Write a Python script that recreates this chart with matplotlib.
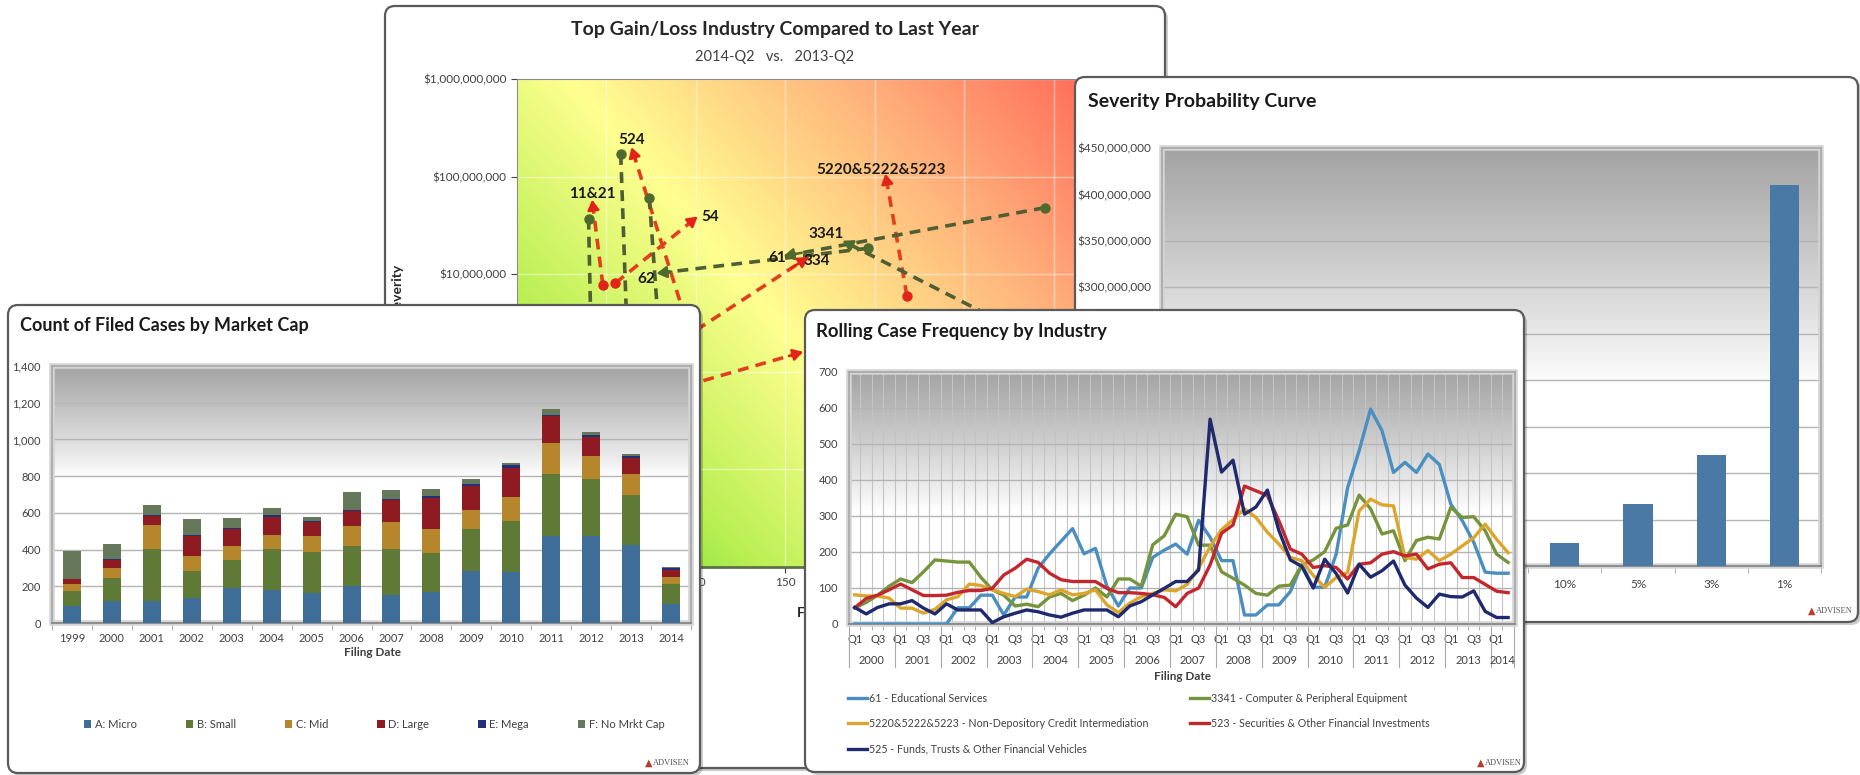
import numpy as np
import matplotlib
matplotlib.use("Agg")
import matplotlib.pyplot as plt
import matplotlib.transforms as mtransforms
from matplotlib.patches import FancyBboxPatch, Rectangle
from matplotlib.colors import LinearSegmentedColormap
from matplotlib.ticker import FuncFormatter, NullLocator

plt.rcParams['font.family'] = ['Lato', 'DejaVu Sans']

# ---- count of filed cases by market cap ----
cap_years = ['1999', '2000', '2001', '2002', '2003', '2004', '2005', '2006',
             '2007', '2008', '2009', '2010', '2011', '2012', '2013', '2014']
cap_labels = ['A: Micro', 'B: Small', 'C: Mid', 'D: Large', 'E: Mega', 'F: No Mrkt Cap']
micro = [91, 122, 118, 136, 190, 180, 163, 203, 151, 167, 285, 279, 475, 475, 423, 105]
small = [85, 121, 285, 147, 151, 224, 223, 216, 252, 217, 226, 278, 337, 310, 275, 107]
mid = [36, 56, 132, 83, 76, 75, 86, 109, 148, 127, 106, 132, 167, 125, 113, 40]
large = [27, 44, 49, 109, 96, 98, 76, 81, 120, 171, 127, 158, 149, 104, 90, 38]
mega = [3, 3, 5, 6, 4, 12, 7, 6, 5, 11, 12, 13, 5, 11, 11, 11]
no_cap = [148, 87, 53, 87, 56, 35, 24, 96, 46, 36, 27, 14, 33, 18, 11, 2]

# ---- rolling case frequency by industry (2000-Q1 .. 2014-Q2) ----
roll_years = [str(y) for y in range(2000, 2015)]
roll_quarters = ['Q1', 'Q2', 'Q3', 'Q4'] * 14 + ['Q1', 'Q2']
edu = [0, 0, 0, 0, 0, 0, 0, 0, 0, 45, 45, 80, 80, 25, 75, 75, 155, 195, 230, 265,
       195, 210, 105, 50, 100, 100, 185, 205, 222, 194, 288, 241, 176, 176, 25, 25, 53, 53, 90, 165,
       102, 102, 194, 379, 481, 597, 537, 421, 449, 421, 472, 443, 333, 287, 227, 144, 141, 141]
computer = [45, 60, 80, 105, 125, 115, 145, 178, 175, 172, 172, 130, 95, 80, 50, 55, 48, 75, 85, 65,
            80, 100, 75, 125, 125, 105, 220, 245, 305, 298, 219, 219, 145, 127, 108, 85, 80, 105, 108, 164,
            178, 201, 266, 275, 358, 320, 250, 259, 176, 232, 241, 236, 324, 296, 298, 259, 194, 171]
credit = [81, 78, 78, 72, 44, 44, 30, 41, 67, 76, 111, 107, 95, 85, 76, 97, 90, 81, 95, 81,
          85, 95, 53, 32, 58, 76, 85, 95, 92, 110, 155, 215, 262, 290, 320, 296, 255, 222, 185, 176,
          135, 102, 129, 143, 314, 347, 331, 328, 185, 180, 204, 176, 194, 217, 240, 277, 235, 198]
securities = [45, 71, 80, 95, 111, 95, 79, 79, 80, 88, 93, 93, 99, 136, 155, 180, 171, 141, 123, 118,
              118, 118, 99, 87, 87, 85, 81, 74, 48, 85, 100, 164, 252, 275, 383, 370, 357, 287, 208, 194,
              157, 162, 157, 125, 166, 170, 194, 201, 189, 194, 153, 166, 170, 129, 129, 110, 91, 87]
funds = [46, 28, 46, 56, 56, 65, 44, 28, 56, 39, 39, 39, 4, 20, 30, 39, 34, 25, 19, 30,
         39, 39, 39, 20, 50, 62, 81, 99, 118, 118, 150, 569, 422, 455, 305, 325, 372, 260, 178, 160,
         100, 180, 140, 86, 166, 130, 148, 175, 108, 72, 46, 83, 76, 75, 92, 35, 18, 18]
roll_names = ['61 - Educational Services',
              '3341 - Computer & Peripheral Equipment',
              '5220&5222&5223 - Non-Depository Credit Intermediation',
              '523 - Securities & Other Financial Investments',
              '525 - Funds, Trusts & Other Financial Vehicles']

# ---- severity probability curve ----
sev_labels = ['90%', '75%', '50%', '25%', '20%', '10%', '5%', '3%', '1%']
sev_values = [2e6, 4e6, 7e6, 12e6, 17e6, 25e6, 67e6, 119e6, 410e6]

# ---- top gain/loss industry: (frequency, severity) last year -> this year ----
gain_labels = ['11&21', '54', '524', '334', '', '5220&5222&5223']
gain_x0 = [48, 55, 97, 24, 46, 218]
gain_y0 = [7.7e6, 8.1e6, 2.4e6, 3.3e5, 4.0e5, 6.0e6]
gain_x1 = [42, 101, 64, 163, 160, 206]
gain_y1 = [5.8e7, 3.9e7, 2.0e8, 1.5e7, 1.6e6, 1.07e8]
loss_labels = ['61', '62', '3341', '', '', '']
loss_x0 = [295, 196, 326, 40, 58, 74]
loss_y0 = [4.8e7, 1.84e7, 1.0e6, 3.7e7, 1.7e8, 6.0e7]
loss_x1 = [149, 78, 182, 43, 64, 84]
loss_y1 = [1.53e7, 1.02e7, 2.2e7, 1.0e5, 1.3e5, 1.6e5]

W, H = 1860, 775
fig = plt.figure(figsize=(W / 100, H / 100), dpi=100)
fig.patch.set_facecolor('white')
TXT = '#404040'


def box(l, t, r, b):
    return [l / W, 1 - b / H, (r - l) / W, (b - t) / H]


def add_panel(l, t, r, b, z):
    sh = FancyBboxPatch(((l + 3) / 100, (H - b - 3) / 100), (r - l) / 100, (b - t) / 100,
                        boxstyle='round,pad=0,rounding_size=0.1', transform=fig.dpi_scale_trans,
                        fc=(0, 0, 0, 0.2), ec='none', zorder=z)
    fig.add_artist(sh)
    p = FancyBboxPatch((l / 100, (H - b) / 100), (r - l) / 100, (b - t) / 100,
                       boxstyle='round,pad=0,rounding_size=0.1', transform=fig.dpi_scale_trans,
                       fc='white', ec='#5a5a5a', lw=1.6, zorder=z + 0.1)
    fig.add_artist(p)


def gray_gradient(ax, white_from, dark=0.64):
    v = np.linspace(1, 0, 200)[:, None]
    t = np.clip((v - white_from) / (1 - white_from), 0, 1) ** 0.9
    g = 1 - (1 - dark) * t
    img = np.repeat(g[:, :, None], 3, axis=2) * np.ones((1, 2, 1))
    ax.imshow(img, extent=(0, 1, 0, 1), transform=ax.transAxes, aspect='auto',
              zorder=0, interpolation='bilinear')


def frame(ax):
    for s in ax.spines.values():
        s.set_color('#a8a8a8')
        s.set_linewidth(1.2)
    ax.spines['bottom'].set_color('#808080')
    ax.add_patch(Rectangle((0, 0), 1, 1, transform=ax.transAxes, fill=False,
                           ec='#d4d4d4', lw=4, clip_on=False, zorder=2.5))


def logo(px, py, z):
    fig.text(px / W, 1 - py / H, '\u25b2', color='#c0392b', fontsize=7, ha='right',
             va='center', zorder=z, family='DejaVu Sans')
    fig.text((px + 1) / W, 1 - py / H, 'ADVISEN', fontsize=6, family='Liberation Serif',
             color='#555555', ha='left', va='center', zorder=z)


# =============== panel 1: scatter (back) ===============
add_panel(385, 6, 1165, 768, 10)
fig.text(775 / W, 1 - 30 / H, 'Top Gain/Loss Industry Compared to Last Year', ha='center',
         va='center', fontsize=14, weight='bold', color='#262626', zorder=12)
fig.text(775 / W, 1 - 57 / H, '2014-Q2   vs.   2013-Q2', ha='center', va='center',
         fontsize=10.5, color=TXT, zorder=12)
ax1 = fig.add_axes(box(517, 79, 1143, 567), zorder=11)
ax1.set_yscale('log')
ax1.set_xlim(0, 350)
ax1.set_ylim(1e4, 1e9)
ax1.set_autoscale_on(False)
heat = LinearSegmentedColormap.from_list('heat', [(0, '#47D029'), (0.22, '#B8EF52'),
                                                  (0.45, '#FFFF90'), (0.72, '#FFB27C'),
                                                  (1, '#FF5C52')])
u = np.linspace(0, 1, 300)[None, :]
v = np.linspace(1, 0, 200)[:, None]
ax1.imshow(heat(0.6 * u + 0.4 * v), extent=(0, 1, 0, 1), transform=ax1.transAxes,
           aspect='auto', zorder=0, interpolation='bilinear')
ax1.set_xticks(np.arange(0, 351, 50))
ax1.set_yticks([1e4, 1e5, 1e6, 1e7, 1e8, 1e9])
ax1.yaxis.set_minor_locator(NullLocator())
ax1.yaxis.set_major_formatter(FuncFormatter(lambda val, p: '${:,.0f}'.format(val)))
ax1.grid(True, color='white', alpha=0.45, lw=1)
ax1.tick_params(labelsize=8.5, colors=TXT, length=4)
for s in ax1.spines.values():
    s.set_color('#8c8c8c')
ax1.spines['bottom'].set_color('#5f6f4a')
ax1.spines['bottom'].set_linewidth(2)
fig.text(398 / W, 1 - 289 / H, 'Severity', rotation=90, ha='center', va='center',
         fontsize=10, weight='bold', color='#262626', zorder=12)
fig.text(830 / W, 1 - 613 / H, 'Frequency', ha='center', va='center',
         fontsize=10, weight='bold', color='#262626', zorder=12)


def draw_moves(xs0, ys0, xs1, ys1, labels, lc, dc):
    for x0, y0, x1, y1, lab in zip(xs0, ys0, xs1, ys1, labels):
        ax1.plot([x0, x1], [y0, y1], ls=(0, (3, 2)), lw=2.6, color=lc, zorder=3)
        ax1.plot([x0], [y0], 'o', ms=6.5, color=dc, zorder=4)
        xm = x0 + 0.93 * (x1 - x0)
        ym = y0 * (y1 / y0) ** 0.93
        ax1.annotate('', xy=(x1, y1), xytext=(xm, ym), zorder=4,
                     arrowprops=dict(arrowstyle='-|>,head_length=0.6,head_width=0.35',
                                     color=dc, lw=1.8, shrinkA=0, shrinkB=0))


draw_moves(gain_x0, gain_y0, gain_x1, gain_y1, gain_labels, '#E0401E', '#E2231A')
draw_moves(loss_x0, loss_y0, loss_x1, loss_y1, loss_labels, '#4F5F33', '#4F6A2D')
lab_style = dict(fontsize=11, weight='bold', color='#1a1a1a', zorder=6)
lab_pos = {'11&21': ((0, 4), 'center', 'center'), '54': ((3, 0), 'left', 'center'),
           '524': ((0, 5), 'center', 'center'), '334': ((-4, -3), 'left', 'center'),
           '5220&5222&5223': ((-3, 3), 'center', 'center'), '61': ((2, -1), 'right', 'center'),
           '62': ((-1, -4), 'right', 'center'), '3341': ((1, 5), 'right', 'center')}
for xs, ys, labels in [(gain_x1, gain_y1, gain_labels), (loss_x1, loss_y1, loss_labels)]:
    for x1, y1, lab in zip(xs, ys, labels):
        if lab:
            off, ha, va = lab_pos[lab]
            ax1.annotate(lab, (x1, y1), xytext=off, textcoords='offset points',
                         ha=ha, va=va, **lab_style)

# =============== panel 2: severity probability curve ===============
add_panel(1075, 77, 1858, 622, 20)
fig.text(1088 / W, 1 - 101 / H, 'Severity Probability Curve', ha='left', va='center',
         fontsize=14, weight='bold', color='#1a1a1a', zorder=22)
ax2 = fig.add_axes(box(1162, 148, 1821, 566), zorder=21)
ax2.set_xlim(-0.5, len(sev_labels) - 0.5)
ax2.set_ylim(0, 450e6)
ax2.set_autoscale_on(False)
gray_gradient(ax2, 0.44)
ax2.bar(np.arange(len(sev_labels)), sev_values, 0.4, color='#4A79A5', zorder=3)
ax2.set_yticks(np.arange(0, 450e6 + 1, 50e6))
ax2.yaxis.set_major_formatter(FuncFormatter(lambda val, p: '${:,.0f}'.format(val)))
ax2.set_xticks(np.arange(len(sev_labels)))
ax2.set_xticklabels(sev_labels)
ax2.set_xticks(np.arange(len(sev_labels) + 1) - 0.5, minor=True)
ax2.tick_params(axis='x', which='major', length=0, pad=9)
ax2.tick_params(axis='x', which='minor', length=5, color='#a0a0a0')
ax2.tick_params(axis='y', length=0, pad=8)
ax2.tick_params(labelsize=8.5, labelcolor=TXT)
ax2.grid(True, axis='y', color='#b4b4b4', lw=1)
ax2.set_axisbelow(True)
frame(ax2)
logo(1815, 611, 22)

# =============== panel 3: count of filed cases by market cap ===============
add_panel(8, 305, 700, 773, 30)
fig.text(20 / W, 1 - 325 / H, 'Count of Filed Cases by Market Cap', ha='left', va='center',
         fontsize=13, weight='bold', color='#1a1a1a', zorder=32)
ax3 = fig.add_axes(box(52, 366, 691, 623), zorder=31)
ax3.set_xlim(-0.5, len(cap_years) - 0.5)
ax3.set_ylim(0, 1400)
ax3.set_autoscale_on(False)
gray_gradient(ax3, 0.57)
cap_colors = ['#3E6E98', '#5F7A37', '#B5862C', '#8E1B21', '#22307A', '#66785A']
xpos = np.arange(len(cap_years))
base = np.zeros(len(cap_years))
handles = []
for vals, col, lab in zip([micro, small, mid, large, mega, no_cap], cap_colors, cap_labels):
    bc = ax3.bar(xpos, vals, 0.45, bottom=base, color=col, label=lab, zorder=3)
    handles.append(bc)
    base = base + np.array(vals)
ax3.set_yticks(np.arange(0, 1401, 200))
ax3.yaxis.set_major_formatter(FuncFormatter(lambda val, p: '{:,.0f}'.format(val)))
ax3.set_xticks(xpos)
ax3.set_xticklabels(cap_years)
ax3.set_xticks(np.arange(len(cap_years) + 1) - 0.5, minor=True)
ax3.tick_params(axis='x', which='major', length=0, pad=7)
ax3.tick_params(axis='x', which='minor', length=5, color='#a0a0a0')
ax3.tick_params(axis='y', length=0, pad=8)
ax3.tick_params(labelsize=8, labelcolor=TXT)
ax3.grid(True, axis='y', color='#b4b4b4', lw=1)
ax3.set_axisbelow(True)
frame(ax3)
fig.text(372 / W, 1 - 652 / H, 'Filing Date', ha='center', va='center', fontsize=8.5,
         weight='bold', color=TXT, zorder=32)
ax3.legend(handles=handles, labels=cap_labels, ncol=6, loc='center',
           bbox_to_anchor=(374 / W, 1 - 724 / H), bbox_transform=fig.transFigure,
           frameon=False, fontsize=8, handlelength=0.7, handleheight=0.7, handletextpad=0.3,
           columnspacing=4.4, labelcolor=TXT)
logo(652, 763, 32)

# =============== panel 4: rolling case frequency by industry ===============
add_panel(805, 310, 1524, 772, 40)
fig.text(816 / W, 1 - 331 / H, 'Rolling Case Frequency by Industry', ha='left', va='center',
         fontsize=13.3, weight='bold', color='#1a1a1a', zorder=42)
ax4 = fig.add_axes(box(849, 372, 1515, 624), zorder=41)
nq = len(roll_quarters)
ax4.set_xlim(-0.5, nq - 0.4)
ax4.set_ylim(0, 700)
ax4.set_autoscale_on(False)
gray_gradient(ax4, 0.45)
qx = np.arange(nq)
roll_colors = ['#4A8FC0', '#76943C', '#DCA62C', '#C3272E', '#1F2A6E']
lines = []
for vals, col, name in zip([edu, computer, credit, securities, funds], roll_colors, roll_names):
    ln, = ax4.plot(qx, vals, color=col, lw=2.4, label=name, zorder=3)
    lines.append(ln)
ax4.set_yticks(np.arange(0, 701, 100))
ax4.set_xticks(qx)
ax4.set_xticklabels([q if q in ('Q1', 'Q3') else '' for q in roll_quarters])
ax4.set_xticks(np.arange(nq + 1) - 0.5, minor=True)
ax4.tick_params(axis='x', which='major', length=0, pad=7)
ax4.tick_params(axis='x', which='minor', length=4, color='#a0a0a0')
ax4.tick_params(axis='y', length=0, pad=8)
ax4.tick_params(labelsize=8, labelcolor=TXT)
ax4.grid(True, axis='y', color='#b4b4b4', lw=1)
ax4.grid(True, axis='x', which='minor', color='#c4c4c4', lw=0.8)
ax4.set_axisbelow(True)
frame(ax4)
trans = mtransforms.blended_transform_factory(ax4.transData, ax4.transAxes)
ah = 624 - 372
for k, yr in enumerate(roll_years):
    idx = [i for i in range(nq) if i // 4 == k]
    ax4.text(np.mean(idx), -36 / ah, yr, transform=trans, ha='center', va='center',
             fontsize=8, color=TXT)
    ax4.plot([idx[0] - 0.5] * 2, [0, -43 / ah], transform=trans, clip_on=False,
             color='#a8a8a8', lw=0.8)
ax4.plot([nq - 0.5] * 2, [0, -43 / ah], transform=trans, clip_on=False, color='#a8a8a8', lw=0.8)
fig.text(1182 / W, 1 - 676 / H, 'Filing Date', ha='center', va='center', fontsize=8.5,
         weight='bold', color=TXT, zorder=42)
leg_style = dict(loc='upper left', bbox_transform=fig.transFigure, frameon=False, fontsize=7.7,
                 handlelength=1.8, handletextpad=0.2, labelspacing=1.35, labelcolor=TXT)
col_a = [0, 2, 4]
col_b = [1, 3]
leg_a = ax4.legend([lines[i] for i in col_a], [roll_names[i] for i in col_a],
                   bbox_to_anchor=(838 / W, 1 - 683 / H), **leg_style)
ax4.add_artist(leg_a)
ax4.legend([lines[i] for i in col_b], [roll_names[i] for i in col_b],
           bbox_to_anchor=(1180 / W, 1 - 683 / H), **leg_style)
logo(1484, 763, 42)

fig.savefig('out.png', dpi=100)
